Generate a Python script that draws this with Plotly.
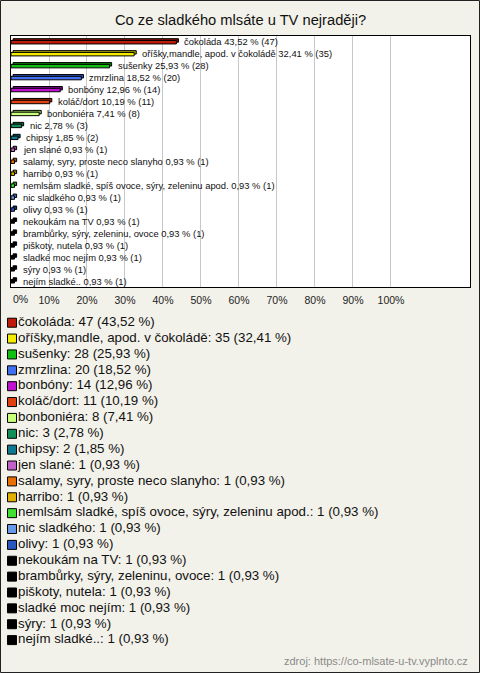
import plotly.graph_objects as go

categories = [
    "čokoláda", "oříšky,mandle, apod. v čokoládě", "sušenky", "zmrzlina", "bonbóny",
    "koláč/dort", "bonboniéra", "nic", "chipsy", "jen slané",
    "salamy, syry, proste neco slanyho", "harribo",
    "nemlsám sladké, spíš ovoce, sýry, zeleninu apod.", "nic sladkého", "olivy",
    "nekoukám na TV", "brambůrky, sýry, zeleninu, ovoce", "piškoty, nutela",
    "sladké moc nejím", "sýry", "nejím sladké..",
]
counts = [47, 35, 28, 20, 14, 11, 8, 3, 2, 1, 1, 1, 1, 1, 1, 1, 1, 1, 1, 1, 1]
percents = [43.52, 32.41, 25.93, 18.52, 12.96, 10.19, 7.41, 2.78, 1.85,
            0.93, 0.93, 0.93, 0.93, 0.93, 0.93, 0.93, 0.93, 0.93, 0.93, 0.93, 0.93]
colors = ["#c01a0a", "#f4ec00", "#10c010", "#4070f0", "#c010d0", "#e04010", "#c8ff78",
          "#109058", "#107890", "#c060c8", "#e87000", "#e0b000", "#40e030", "#6898e8",
          "#2858c0", "#000000", "#000000", "#000000", "#000000", "#000000", "#000000"]
depth_colors = ["#801008", "#b0a800", "#088008", "#2850b0", "#800890", "#a02808", "#90c050",
                "#086038", "#085060", "#904090", "#a05000", "#a08000", "#20a018", "#4068b0",
                "#183880", "#000000", "#000000", "#000000", "#000000", "#000000", "#000000"]
tick_vals = [0, 10, 20, 30, 40, 50, 60, 70, 80, 90, 100]
tick_text = ["0%", "10%", "20%", "30%", "40%", "50%", "60%", "70%", "80%", "90%", "100%"]

title = "Co ze sladkého mlsáte u TV nejraději?"
source = "zdroj: https://co-mlsate-u-tv.vyplnto.cz"

FONT = "Liberation Sans, Arial, sans-serif"
BG = "#f3f2ea"


def fmt(p):
    return f"{p:.2f}".replace(".", ",")


bar_labels = [f"{c} {fmt(p)} % ({n})" for c, p, n in zip(categories, percents, counts)]
legend_labels = [f"{c}: {n} ({fmt(p)} %)" for c, p, n in zip(categories, percents, counts)]
# first tick label is left-aligned at the axis line in the original: drawn as annotation
shown_ticks = [""] + tick_text[1:]

W, H = 480, 673
ML, MR, MT, MB = 11, 10, 36, 10
PW, PH = W - ML - MR, H - MT - MB


def py(pix):  # pixel y from top -> paper y
    return (H - MB - pix) / PH


def px(pix):
    return (pix - ML) / PW


n = len(categories)
x_max = 120.8
depth_shift = 0.55

fig = go.Figure()
# depth (3D top face)
fig.add_trace(go.Bar(
    y=categories, x=percents, base=[depth_shift] * n, orientation="h",
    marker=dict(color=depth_colors, line=dict(color="#000000", width=1)),
    width=0.29, offset=-0.275, hoverinfo="skip", showlegend=False,
    xaxis="x", yaxis="y",
))
# front face
fig.add_trace(go.Bar(
    y=categories, x=percents, orientation="h",
    marker=dict(color=colors, line=dict(color="#000000", width=1)),
    width=0.29, offset=-0.125, showlegend=False,
    xaxis="x", yaxis="y",
))
# legend squares
fig.add_trace(go.Scatter(
    y=categories, x=[1] * n, mode="markers",
    marker=dict(symbol="square", size=9, color=colors, line=dict(color="#000000", width=1)),
    hoverinfo="skip", showlegend=False, cliponaxis=False,
    xaxis="x2", yaxis="y2",
))
# legend texts
fig.add_trace(go.Scatter(
    y=categories, x=[7] * n, mode="text",
    text=legend_labels, textposition="middle right",
    textfont=dict(family=FONT, size=13.3, color="#111111"),
    hoverinfo="skip", showlegend=False, cliponaxis=False,
    xaxis="x2", yaxis="y2",
))

annotations = []
for c, p, lab in zip(categories, percents, bar_labels):
    annotations.append(dict(
        x=p + depth_shift, y=c, xref="x", yref="y", text=lab, showarrow=False,
        xanchor="left", yanchor="middle", xshift=4,
        font=dict(family=FONT, size=9.4, color="#111111"),
    ))
annotations.append(dict(
    x=tick_vals[0], y=py(299), xref="x", yref="paper", text=tick_text[0], showarrow=False,
    xanchor="left", yanchor="middle", xshift=0,
    font=dict(family=FONT, size=10.5, color="#222222"),
))
annotations.append(dict(
    x=1, y=py(661), xref="paper", yref="paper", text=source, showarrow=False,
    xanchor="right", yanchor="middle",
    font=dict(family=FONT, size=11, color="#8a8a8a"),
))
annotations.append(dict(
    x=0.5, y=py(20.5), xref="paper", yref="paper", text=title, showarrow=False,
    xanchor="center", yanchor="middle",
    font=dict(family=FONT, size=14.7, color="#111111"),
))

fig.update_layout(
    width=W, height=H,
    margin=dict(l=ML, r=MR, t=MT, b=MB, autoexpand=False),
    paper_bgcolor=BG,
    plot_bgcolor=BG,
    barmode="overlay",
    showlegend=False,
    annotations=annotations,
    xaxis=dict(
        domain=[0, 1], range=[0, x_max], anchor="y",
        tickvals=tick_vals, ticktext=shown_ticks, ticklabelstandoff=3,
        showgrid=True, gridcolor="#c8c8c8", gridwidth=1,
        zeroline=False, showline=True, mirror=True, linecolor="#000000", linewidth=1,
        ticks="", tickfont=dict(family=FONT, size=10.5, color="#222222"),
        fixedrange=True, automargin=False,
    ),
    yaxis=dict(
        domain=[py(287), 1], type="category", range=[n - 0.5, -0.5], anchor="x",
        showticklabels=False, showgrid=False, zeroline=False,
        showline=True, mirror=True, linecolor="#000000", linewidth=1, ticks="",
        fixedrange=True, automargin=False,
    ),
    xaxis2=dict(domain=[0, 1], range=[0, PW], anchor="y2", visible=False, fixedrange=True),
    yaxis2=dict(domain=[py(322.7 + 15.87 * (n - 0.5)), py(322.7 - 15.87 * 0.5)],
                type="category", range=[n - 0.5, -0.5], anchor="x2", visible=False,
                fixedrange=True),
    shapes=[
        dict(type="rect", xref="x domain", yref="y domain", x0=0, x1=1, y0=0, y1=1,
             fillcolor="#ffffff", line=dict(width=0), layer="below"),
        dict(type="rect", xref="paper", yref="paper",
             x0=px(0.5), x1=px(479.5), y0=py(672.5), y1=py(0.5),
             line=dict(color="#222222", width=1), layer="below"),
    ],
)

fig.write_html(
    "out.html",
    config={"displayModeBar": False},
    post_script="document.body.style.margin='0';document.body.style.overflow='hidden';",
)
